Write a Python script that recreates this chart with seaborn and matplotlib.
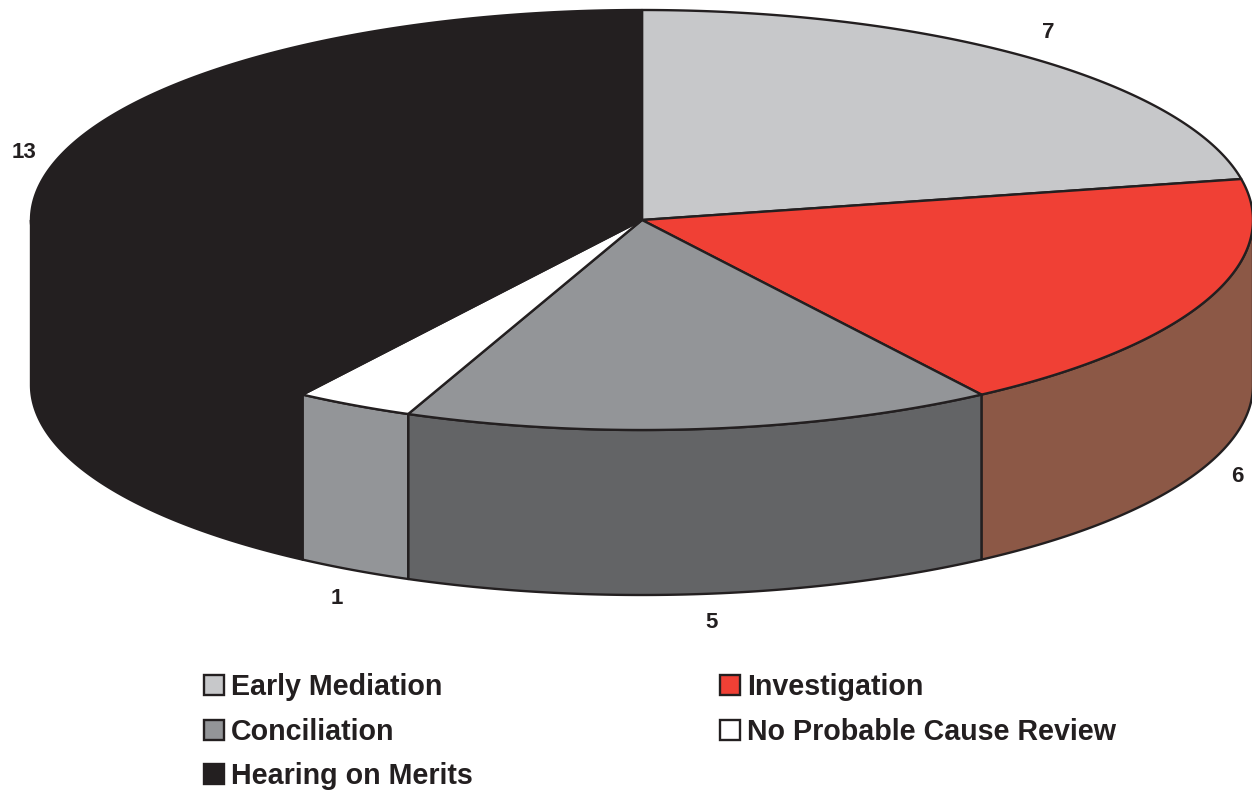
import numpy as np
import matplotlib
matplotlib.use("Agg")
import matplotlib.pyplot as plt
from matplotlib.patches import Polygon, Patch
import seaborn as sns

categories = ["Early Mediation", "Investigation", "Conciliation",
              "No Probable Cause Review", "Hearing on Merits"]
values = [7, 6, 5, 1, 13]
top_colors = ["#C7C8CA", "#F04035", "#939598", "#FFFFFF", "#231F20"]
side_colors = ["#C7C8CA", "#8C5846", "#636466", "#939598", "#231F20"]
label_positions = [(1048, 32), (1237, 476), (712, 622), (337, 598), (24, 152)]
legend_order = [0, 2, 4, 1, 3]

CX, CY, RX, RY, DEPTH = 642, 220, 611, 210, 165
EDGE = "#231F20"

sns.set_theme(style="white")
plt.rcParams["font.family"] = ["Liberation Sans", "DejaVu Sans"]

fig = plt.figure(figsize=(12.52, 7.9), dpi=100)
ax = fig.add_axes([0, 0, 1, 1])
ax.set_xlim(0, 1252)
ax.set_ylim(790, 0)
ax.axis("off")


def rim(a0, a1, drop=0.0):
    t = np.radians(np.linspace(a0, a1, 200))
    return np.column_stack([CX + RX * np.sin(t), CY - RY * np.cos(t) + drop])


edges = 360 * np.cumsum([0] + values) / sum(values)

# side walls: only the front half of the rim (90 to 270 degrees clockwise from the top)
for i in range(len(values)):
    a0, a1 = max(edges[i], 90), min(edges[i + 1], 270)
    if a1 <= a0:
        continue
    pts = np.vstack([rim(a0, a1), rim(a0, a1, DEPTH)[::-1]])
    ax.add_patch(Polygon(pts, closed=True, facecolor=side_colors[i],
                         edgecolor=EDGE, linewidth=1.7, joinstyle="round", zorder=2))

# top wedges
for i in range(len(values)):
    pts = np.vstack([[CX, CY], rim(edges[i], edges[i + 1])])
    ax.add_patch(Polygon(pts, closed=True, facecolor=top_colors[i],
                         edgecolor=EDGE, linewidth=1.7, joinstyle="round", zorder=3))

for v, (x, y) in zip(values, label_positions):
    ax.text(x, y, str(v), ha="center", va="center", fontsize=16,
            fontweight="bold", color=EDGE, zorder=4)

handles = [Patch(facecolor=top_colors[i], edgecolor=EDGE, linewidth=1.7,
                 label=categories[i]) for i in legend_order]
ax.legend(handles=handles, ncol=2, loc="upper left",
          bbox_to_anchor=(204 / 1252, 1 - 673 / 790), frameon=False,
          prop={"size": 20.6, "weight": "bold"}, labelcolor=EDGE,
          borderpad=0, borderaxespad=0, handlelength=0.7, handleheight=0.7,
          handletextpad=0.24, labelspacing=0.585, columnspacing=8.65)

fig.savefig("out.png", dpi=100, facecolor="white")
